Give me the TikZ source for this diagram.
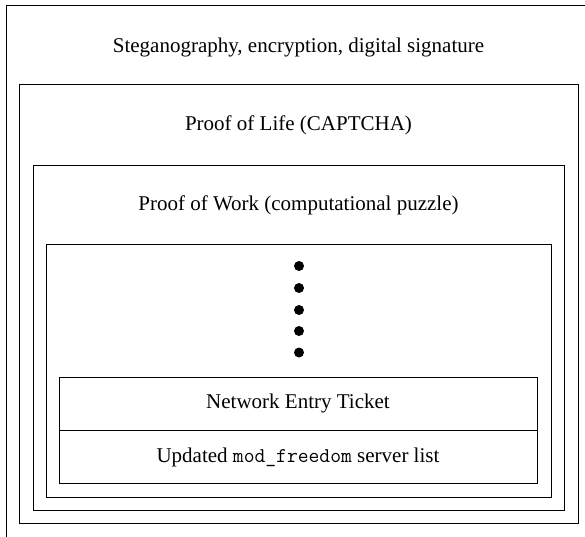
\documentclass[tikz,border=0pt]{standalone}
\usepackage{fontspec}
\setmainfont{Liberation Serif}
\begin{document}
\begin{tikzpicture}[x=1pt,y=-1pt,
  layer/.style={draw=black, line width=1pt, inner sep=0pt},
  lbl/.style={anchor=base, inner sep=0pt, font=\fontsize{21}{25}\selectfont},
  dot/.style={circle, fill=black, inner sep=0pt, minimum size=10pt}]
\useasboundingbox (0,0) rectangle (585,536);
% nested boxes (outer one runs past the right and bottom edges)
\draw[layer] (6,5) rectangle (592,542);
\node[layer, minimum width=559pt, minimum height=439pt] (life) at (298.5,303.5) {};
\node[layer, minimum width=531pt, minimum height=345pt] (work) at (298.5,337.5) {};
\node[layer, minimum width=505pt, minimum height=253pt] (core) at (298.5,370.5) {};
\node[layer, minimum width=478pt, minimum height=53pt] (ticket) at (298,403.5) {};
\node[layer, minimum width=478pt, minimum height=53pt] (list) at (298,456.5) {};
% labels
\node[lbl] (t1) at (298.5,52) {Steganography, encryption, digital signature};
\node[lbl] (t2) at (298.5,130) {Proof of Life (CAPTCHA)};
\node[lbl] (t3) at (298.5,210) {Proof of Work (computational puzzle)};
\node[lbl] (t4) at (298,408) {Network Entry Ticket};
\node[lbl] (t5) at (298,462) {Updated \texttt{mod\_freedom} server list};
% dots
\node[dot] (d1) at (299,266) {};
\node[dot] (d2) at (299,288) {};
\node[dot] (d3) at (299,310) {};
\node[dot] (d4) at (299,331) {};
\node[dot] (d5) at (299,352.5) {};
\end{tikzpicture}
\end{document}
